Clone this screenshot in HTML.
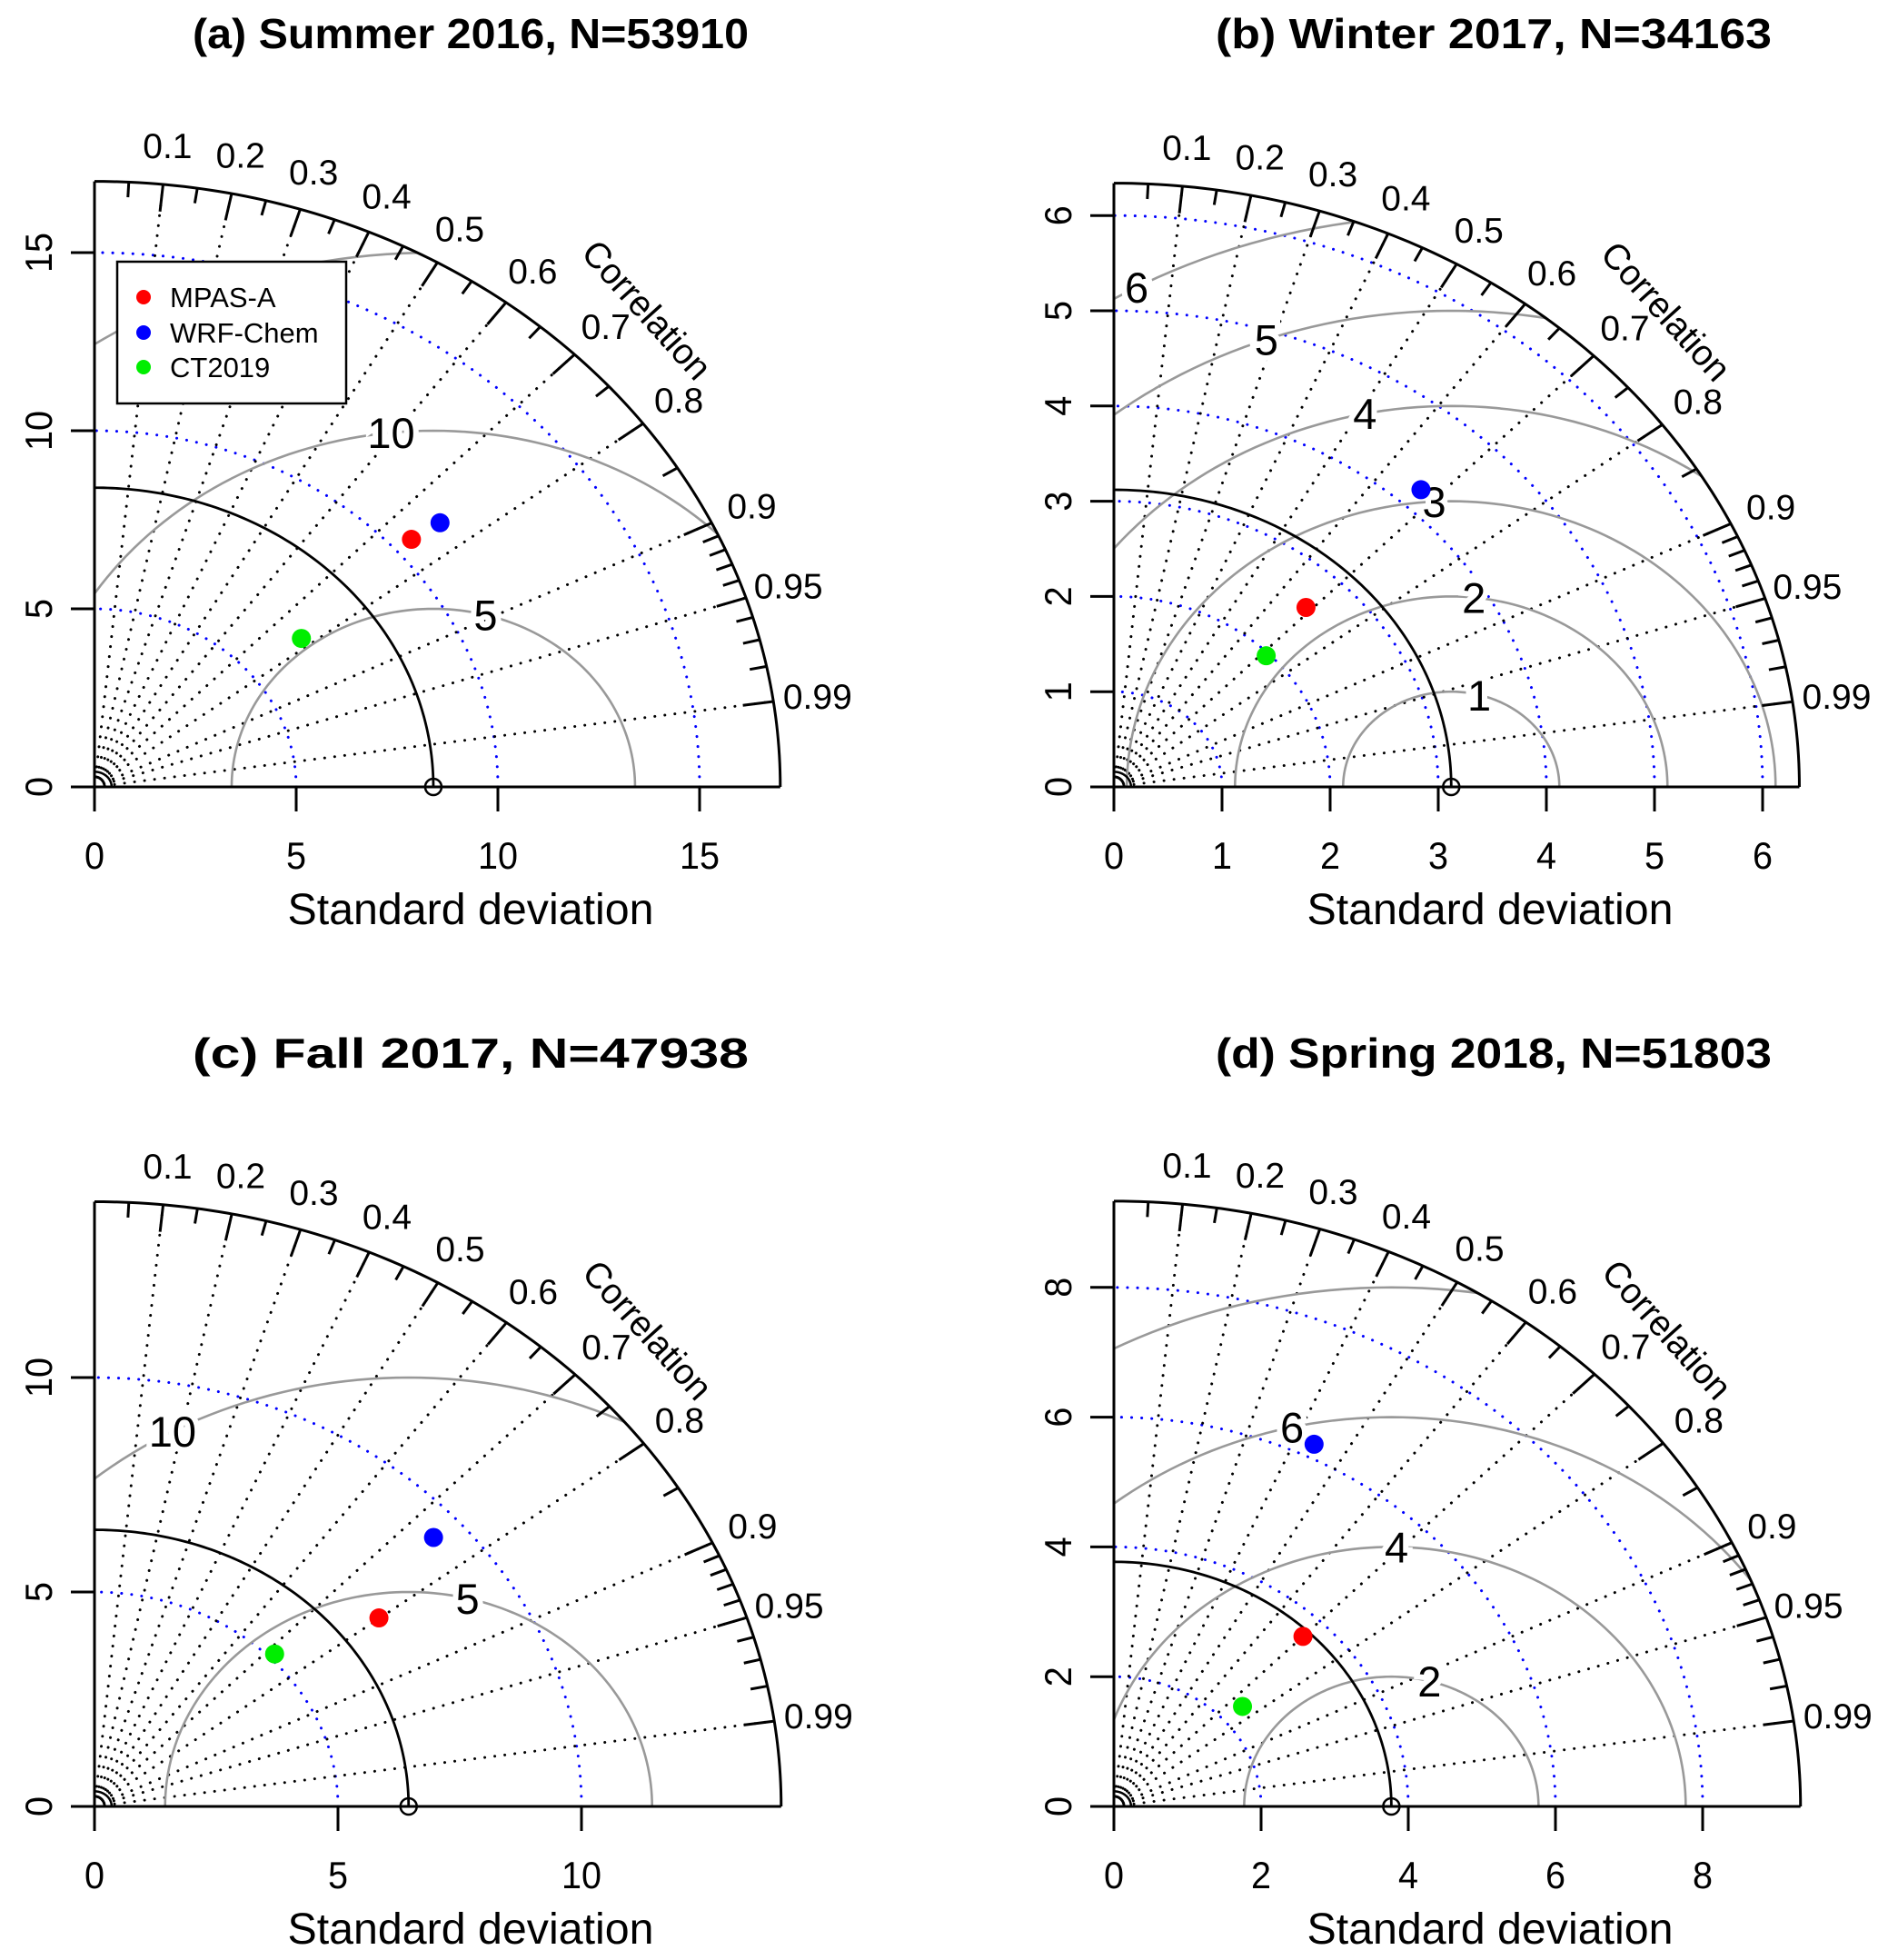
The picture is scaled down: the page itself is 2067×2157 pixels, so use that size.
<!DOCTYPE html>
<html><head><meta charset="utf-8"><style>
html,body{margin:0;padding:0;background:#fff}
svg{display:block}
text{font-family:"Liberation Sans",Arial,sans-serif}
</style></head><body>
<svg id="fig" width="2067" height="2157" viewBox="0 0 2067 2157" xmlns="http://www.w3.org/2000/svg"></svg>
<script>
// ---- data ----
const modelNames = ["MPAS-A", "WRF-Chem", "CT2019"];
const modelColors = ["#ff0000", "#0000ff", "#00ee00"];
const panelTitles = ["(a) Summer 2016, N=53910", "(b) Winter 2017, N=34163", "(c) Fall 2017, N=47938", "(d) Spring 2018, N=51803"];
const refSd = [8.4, 3.12, 6.45, 3.77];
const sdA = [10.49, 11.33, 6.61];
const corA = [0.749, 0.756, 0.776];
const sdB = [2.59, 4.22, 1.97];
const corB = [0.686, 0.673, 0.715];
const sdC = [7.31, 9.37, 5.13];
const corC = [0.799, 0.743, 0.721];
const sdD = [3.67, 6.21, 2.33];
const corD = [0.70, 0.438, 0.75];
const ticksA = [0, 5, 10, 15];
const ticksB = [0, 1, 2, 3, 4, 5, 6];
const ticksC = [0, 5, 10];
const ticksD = [0, 2, 4, 6, 8];
const sdMaxes = [17, 6.34, 14.1, 9.33];
const rmsA = [5, 10, 15];
const rmsB = [1, 2, 3, 4, 5, 6];
const rmsC = [5, 10];
const rmsD = [2, 4, 6, 8];
const corLabels = [0.1, 0.2, 0.3, 0.4, 0.5, 0.6, 0.7, 0.8, 0.9, 0.95, 0.99];
const corMinor = [0.05, 0.15, 0.25, 0.35, 0.45, 0.55, 0.65, 0.75, 0.85, 0.91, 0.92, 0.93, 0.94, 0.96, 0.97, 0.98];

// ---- layout (not data) ----
const layouts = [
  {ox:104, oy:866, sx:44.4, sy:39.2, tx:518, ty:53, lab:[75,96,135]},
  {ox:1226, oy:866, sx:119, sy:104.8, tx:1644, ty:53, lab:[75,84,93,101.5,110,119]},
  {ox:104, oy:1988, sx:53.6, sy:47.2, tx:518, ty:1175, lab:[76,119]},
  {ox:1226, oy:1988, sx:81, sy:71.4, tx:1644, ty:1175, lab:[75,89,103,140]}
];
const sdSets = [sdA, sdB, sdC, sdD];
const corSets = [corA, corB, corC, corD];
const tickSets = [ticksA, ticksB, ticksC, ticksD];
const rmsSets = [rmsA, rmsB, rmsC, rmsD];

const NS = "http://www.w3.org/2000/svg";
const fig = document.getElementById("fig");
function mk(parent, tag, attrs) {
  const e = document.createElementNS(NS, tag);
  for (const k in attrs) e.setAttribute(k, attrs[k]);
  parent.appendChild(e);
  return e;
}

layouts.forEach((L, p) => {
  const g = mk(fig, "g", {});
  
  
  const M = sdMaxes[p], R = refSd[p];
  const X = v => L.ox + v * L.sx;
  const Y = v => L.oy - v * L.sy;
  const P = (r, a) => [X(r * Math.cos(a)), Y(r * Math.sin(a))];
  const arcPath = (cx, r, a0, a1) => {
    let d = "";
    const n = 120;
    for (let i = 0; i <= n; i++) {
      const a = a0 + (a1 - a0) * i / n;
      d += (i ? "L" : "M") + X(cx + r * Math.cos(a)).toFixed(2) + "," + Y(r * Math.sin(a)).toFixed(2);
    }
    return d;
  };
  const cid = "clip" + p;
  const cp = mk(g, "clipPath", {id: cid});
  mk(cp, "path", {d: arcPath(0, M, 0, Math.PI / 2) + "L" + X(0) + "," + Y(0) + "Z"});

  const t = mk(g, "text", {x: L.tx, y: L.ty, "text-anchor": "middle", "font-size": 46, "font-weight": "bold", textLength: 612, lengthAdjust: "spacingAndGlyphs"});
  t.textContent = panelTitles[p];
  
  

  tickSets[p].slice(1).forEach(v => {
    const e = mk(g, "path", {d: arcPath(0, v, 0, Math.PI / 2), fill: "none", stroke: "#0000ff", "stroke-width": 3, "stroke-dasharray": "0.1 11", "stroke-linecap": "round"});
    
    
  });
  corLabels.forEach(c => {
    const a = Math.acos(c);
    const [ex, ey] = P(M, a);
    const e = mk(g, "line", {x1: X(0), y1: Y(0), x2: ex, y2: ey, stroke: "#000", "stroke-width": 3, "stroke-dasharray": "0.1 11", "stroke-linecap": "round"});
    
    
  });
  const rg = mk(g, "g", {"clip-path": "url(#" + cid + ")"});
  rmsSets[p].forEach(r => {
    const e = mk(rg, "path", {d: arcPath(R, r, 0, Math.PI), fill: "none", stroke: "#999", "stroke-width": 2.6});
    
    
  });
  rmsSets[p].forEach((r, i) => {
    const a = L.lab[i] * Math.PI / 180;
    const lx = R + r * Math.cos(a), ly = r * Math.sin(a);
    if (lx < 0.2 || Math.hypot(lx, ly) > M * 0.98) return;
    const e = mk(g, "text", {x: X(lx), y: Y(ly) + 17, "text-anchor": "middle", "font-size": 47, stroke: "#fff", "stroke-width": 12, "paint-order": "stroke", fill: "#000"});
    e.textContent = r;
    
    
  });
  const ra = mk(g, "path", {d: arcPath(0, R, 0, Math.PI / 2), fill: "none", stroke: "#000", "stroke-width": 2.8});
  
  
  mk(g, "path", {d: arcPath(0, M * 0.025, 0, Math.PI / 2), fill: "none", stroke: "#000", "stroke-width": 2.5});
  const oa = mk(g, "path", {d: arcPath(0, M, 0, Math.PI / 2), fill: "none", stroke: "#000", "stroke-width": 3});
  
  
  const xa = mk(g, "line", {x1: X(0) - 26, y1: Y(0), x2: X(M), y2: Y(0), stroke: "#000", "stroke-width": 3});
  
  
  const ya = mk(g, "line", {x1: X(0), y1: Y(0) + 26, x2: X(0), y2: Y(M), stroke: "#000", "stroke-width": 3});
  
  
  tickSets[p].forEach(v => {
    mk(g, "line", {x1: X(v), y1: Y(0), x2: X(v), y2: Y(0) + 27, stroke: "#000", "stroke-width": 3});
    mk(g, "line", {x1: X(0) - 26, y1: Y(v), x2: X(0), y2: Y(v), stroke: "#000", "stroke-width": 3});
    const tx = mk(g, "text", {x: X(v), y: Y(0) + 90, "text-anchor": "middle", "font-size": 42, textLength: (String(v).length * 22), lengthAdjust: "spacingAndGlyphs"});
    tx.textContent = v;
    
    
    const ty = mk(g, "text", {x: 0, y: 0, "text-anchor": "middle", "font-size": 42, transform: "translate(" + (X(0) - 47) + "," + Y(v) + ") rotate(-90)", textLength: (String(v).length * 22), lengthAdjust: "spacingAndGlyphs"});
    ty.textContent = v;
    
    
  });
  const at = mk(g, "text", {x: X(0) + 414, y: Y(0) + 151, "text-anchor": "middle", "font-size": 48, textLength: 403, lengthAdjust: "spacingAndGlyphs"});
  at.textContent = "Standard deviation";
  
  
  corLabels.forEach(c => {
    const a = Math.acos(c);
    const [ax, ay] = P(M, a), [bx, by] = P(M * (1 - 0.045), a);
    mk(g, "line", {x1: ax, y1: ay, x2: bx, y2: by, stroke: "#000", "stroke-width": 3});
    const [lx, ly] = P(M * 1.065, a);
    const e = mk(g, "text", {x: lx, y: ly + 14, "text-anchor": "middle", "font-size": 39});
    e.textContent = String(c);
    
    
  });
  corMinor.forEach(c => {
    const a = Math.acos(c);
    const [ax, ay] = P(M, a), [bx, by] = P(M * (1 - 0.025), a);
    mk(g, "line", {x1: ax, y1: ay, x2: bx, y2: by, stroke: "#000", "stroke-width": 3});
  });
  const [cx, cy] = P(M * 1.12, Math.PI / 4);
  const ct = mk(g, "text", {x: 0, y: 0, "text-anchor": "middle", "font-size": 40, transform: "translate(" + cx + "," + (cy + 12) + ") rotate(48)", textLength: 190, lengthAdjust: "spacingAndGlyphs"});
  ct.textContent = "Correlation";
  
  
  const rp = mk(g, "circle", {cx: X(R), cy: Y(0), r: 9, fill: "none", stroke: "#000", "stroke-width": 2.5});
  
  
  sdSets[p].forEach((s, i) => {
    const a = Math.acos(corSets[p][i]);
    const [px, py] = P(s, a);
    const e = mk(g, "circle", {cx: px, cy: py, r: 10.5, fill: modelColors[i]});
    
    
  });
});

const lg = mk(fig, "g", {});


mk(lg, "rect", {x: 129, y: 288, width: 252, height: 156, fill: "#fff", stroke: "#000", "stroke-width": 2.5});
const legendRows = [327, 366, 404];
modelNames.forEach((n, i) => {
  const d = mk(lg, "circle", {cx: 158, cy: legendRows[i], r: 8, fill: modelColors[i]});
  
  
  const t = mk(lg, "text", {x: 187, y: legendRows[i] + 11, "font-size": 31});
  t.textContent = n;
  
  
});
</script>
</body></html>
